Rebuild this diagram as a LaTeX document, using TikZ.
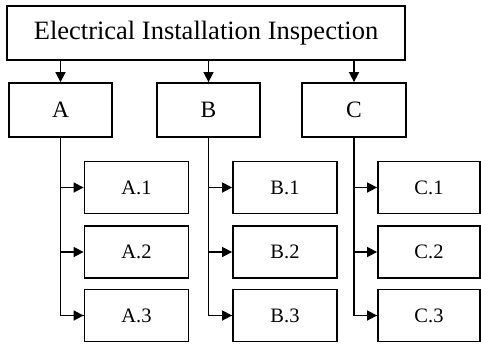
\documentclass[tikz,border=0pt]{standalone}
\usepackage{fontspec}
\setmainfont{Liberation Serif}
\usetikzlibrary{arrows.meta}
\begin{document}
\begin{tikzpicture}[x=1pt,y=-1pt,
  box/.style={draw,line width=1.8pt,rectangle,inner sep=0pt,minimum height=53pt},
  topbox/.style={box,line width=1.6pt,minimum width=398pt,minimum height=54pt,font=\fontsize{26.5}{30}\selectfont},
  midbox/.style={box,minimum width=103pt,minimum height=54pt,font=\fontsize{23.5}{27}\selectfont},
  subbox/.style={box,minimum width=104pt,minimum height=52pt,font=\fontsize{20.5}{24}\selectfont},
  conn/.style={line width=1.6pt,-{Triangle[length=10pt,width=10pt]}},
  trunk/.style={line width=1.6pt}]
\useasboundingbox (0,0) rectangle (481,343);
\node[topbox] (top) at (206,33) {Electrical Installation Inspection};
\node[midbox] (A) at (60.5,110) {A};
\node[midbox] (B) at (208.5,110) {B};
\node[midbox,minimum width=104pt] (C) at (354,110) {C};
\node[subbox] (A1) at (136.5,187.5) {A.1};
\node[subbox] (A2) at (136.5,252) {A.2};
\node[subbox] (A3) at (136.5,315.5) {A.3};
\node[subbox] (B1) at (285,187.5) {B.1};
\node[subbox] (B2) at (285,252) {B.2};
\node[subbox] (B3) at (285,315.5) {B.3};
\node[subbox,minimum width=102pt] (C1) at (429,187.5) {C.1};
\node[subbox,minimum width=102pt] (C2) at (429,252) {C.2};
\node[subbox,minimum width=102pt] (C3) at (429,315.5) {C.3};
\foreach \p in {A,B,C}{
  \draw[conn] (top.south -| \p.north) -- (\p.north);
  \draw[trunk] (\p.south) |- (\p3.west);
  \draw[conn] (\p.south |- \p1.west) -- (\p1.west);
  \draw[conn] (\p.south |- \p2.west) -- (\p2.west);
  \draw[conn] (\p.south |- \p3.west) -- (\p3.west);
}
\end{tikzpicture}
\end{document}
